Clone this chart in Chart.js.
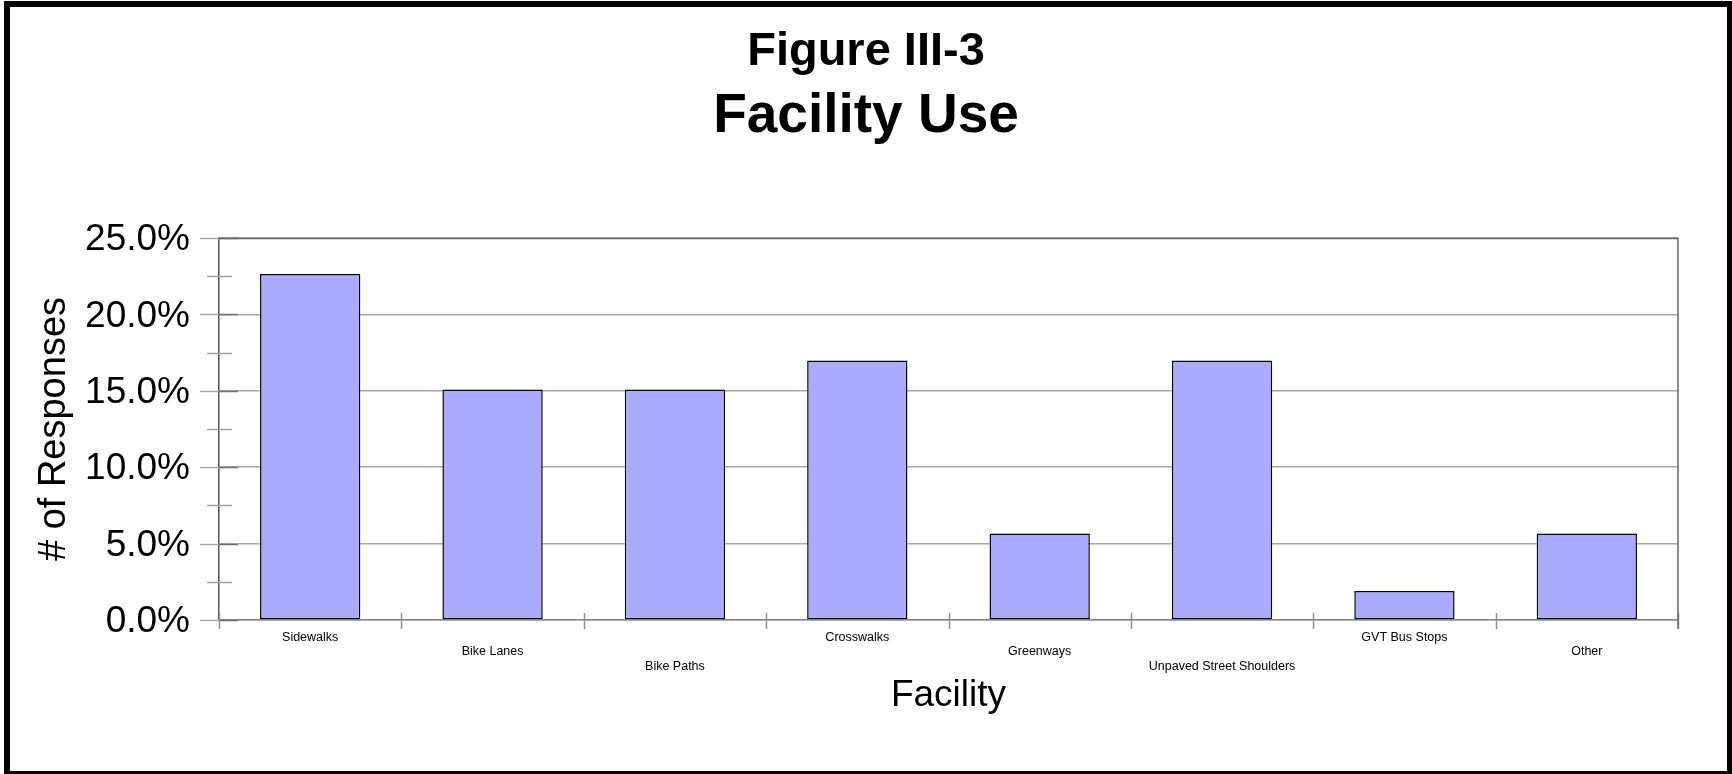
<!DOCTYPE html>
<html>
<head>
<meta charset="utf-8">
<title>Figure III-3 Facility Use</title>
<script src="https://cdn.jsdelivr.net/npm/chart.js@4.4.0/dist/chart.umd.min.js"></script>
<style>
	html, body { margin: 0; padding: 0; background: #fff; }
	#wrap { position: relative; width: 1732px; height: 774px; overflow: hidden; }
	#myChart { position: absolute; left: 0; top: 0; }
	#frame {
		position: absolute; left: 4px; top: 1px; width: 1728px; height: 773px;
		box-sizing: border-box; border-style: solid; border-color: #000;
		border-width: 6px 5px 3px 6px; pointer-events: none;
	}
</style>
</head>
<body>
<div id="wrap">
	<canvas id="myChart" width="1732" height="774"></canvas>
	<div id="frame"></div>
</div>
<script>
// chart data
const facilities = [
	"Sidewalks",
	"Bike Lanes",
	"Bike Paths",
	"Crosswalks",
	"Greenways",
	"Unpaved Street Shoulders",
	"GVT Bus Stops",
	"Other"
];
// which text row each category label sits on (staggered like the original)
const labelRows = [0, 1, 2, 0, 1, 2, 0, 1];
// share of responses, in percent
const responses = [22.64, 15.09, 15.09, 16.98, 5.66, 16.98, 1.89, 5.66];
const yMin = 0;
const yMax = 25;
const yStep = 5;
const yMinorStep = 2.5;

const fontName = "'Liberation Sans', Arial, Helvetica, sans-serif";

// labels pushed down by empty lines so they stagger
const labels = [];
for (var i = 0; i < facilities.length; i++) {
	var lines = [];
	for (var r = 0; r < labelRows[i]; r++) {
		lines.push("");
	}
	lines.push(facilities[i]);
	labels.push(lines);
}

// extra ticks + plot frame, like the old spreadsheet chart
const tickMarks = {
	id: 'tickMarks',
	afterDatasetsDraw(chart) {
		const ctx = chart.ctx;
		const area = chart.chartArea;
		const xs = chart.scales.x;
		const ys = chart.scales.y;
		ctx.save();
		ctx.lineWidth = 1.5;

		// y ticks, major and minor
		for (var v = yMin; v <= yMax + 0.001; v += yMinorStep) {
			var py = Math.round(ys.getPixelForValue(v)) + 0.5;
			var major = Math.abs(v / yStep - Math.round(v / yStep)) < 0.001;
			ctx.beginPath();
			if (major) {
				ctx.strokeStyle = "#a8a8a8";
				ctx.moveTo(area.left - 19, py);
				ctx.lineTo(area.left, py);
				ctx.stroke();
				ctx.beginPath();
				ctx.strokeStyle = "#707070";
				ctx.moveTo(area.left, py);
				ctx.lineTo(area.left + 19, py);
			} else {
				ctx.strokeStyle = "#a0a0a0";
				ctx.moveTo(area.left - 12, py);
				ctx.lineTo(area.left + 13, py);
			}
			ctx.stroke();
		}

		// x ticks on the category boundaries
		const half = (xs.getPixelForValue(1) - xs.getPixelForValue(0)) / 2;
		ctx.strokeStyle = "#909090";
		for (var k = 0; k <= facilities.length; k++) {
			var px = Math.round(xs.getPixelForValue(k) - half) + 0.5;
			ctx.beginPath();
			ctx.moveTo(px, area.bottom - 7);
			ctx.lineTo(px, area.bottom + 9);
			ctx.stroke();
		}

		// top and right edge of the plot
		ctx.strokeStyle = "#6a6a6a";
		ctx.beginPath();
		ctx.moveTo(area.left, area.top + 0.5);
		ctx.lineTo(area.right, area.top + 0.5);
		ctx.lineTo(area.right, area.bottom + 9);
		ctx.stroke();
		ctx.restore();
	}
};

const config = {
	type: 'bar',
	data: {
		labels: labels,
		datasets: [
			{
				label: "# of Responses",
				data: responses,
				backgroundColor: "#aaaaff",
				borderColor: "#000000",
				borderWidth: 1.5,
				borderSkipped: false,
				categoryPercentage: 1.0,
				barPercentage: 0.55
			}
		]
	},
	options: {
		responsive: false,
		animation: false,
		devicePixelRatio: 1,
		layout: {
			padding: 0
		},
		plugins: {
			legend: { display: false },
			tooltip: { enabled: false },
			title: {
				display: true,
				text: "Figure III-3",
				color: "#000",
				font: { family: fontName, size: 47, weight: 'bold', lineHeight: 1 },
				padding: { top: 29, bottom: 4 }
			},
			subtitle: {
				display: true,
				text: "Facility Use",
				color: "#000",
				font: { family: fontName, size: 55, weight: 'bold', lineHeight: 1 },
				padding: { top: 9, bottom: 94 }
			}
		},
		scales: {
			x: {
				grid: { display: true, drawOnChartArea: false, drawTicks: false, offset: true },
				border: { display: true, color: "#888888", width: 1.5 },
				ticks: {
					autoSkip: false,
					maxRotation: 0,
					minRotation: 0,
					padding: 10,
					color: "#000",
					font: { family: fontName, size: 12.5, lineHeight: 1.16 }
				},
				title: {
					display: true,
					text: "Facility",
					color: "#000",
					font: { family: fontName, size: 37, lineHeight: 1.2 },
					padding: { top: 0, bottom: 56 }
				},
				afterFit: function(scale) {
					scale.height = 154;
				}
			},
			y: {
				min: yMin,
				max: yMax,
				grid: { color: "#a8a8a8", lineWidth: 1.5, drawTicks: false },
				border: { display: true, color: "#555555", width: 1.5 },
				ticks: {
					stepSize: yStep,
					padding: 29,
					labelOffset: 2,
					color: "#000",
					font: { family: fontName, size: 37 },
					callback: function(value) {
						return value.toFixed(1) + "%";
					}
				},
				title: {
					display: true,
					text: "# of Responses",
					color: "#000",
					font: { family: fontName, size: 38, lineHeight: 1.2 },
					padding: { top: 32, bottom: 0 }
				},
				afterFit: function(scale) {
					scale.width = 219;
				}
			},
			// empty axis on the right, only keeps the plot clear of the edge
			yRight: {
				position: 'right',
				display: true,
				grid: { display: false },
				border: { display: false },
				ticks: { display: false },
				afterFit: function(scale) {
					scale.width = 54;
				}
			}
		}
	},
	plugins: [tickMarks]
};

const myChart = new Chart(document.getElementById("myChart"), config);
</script>
</body>
</html>
